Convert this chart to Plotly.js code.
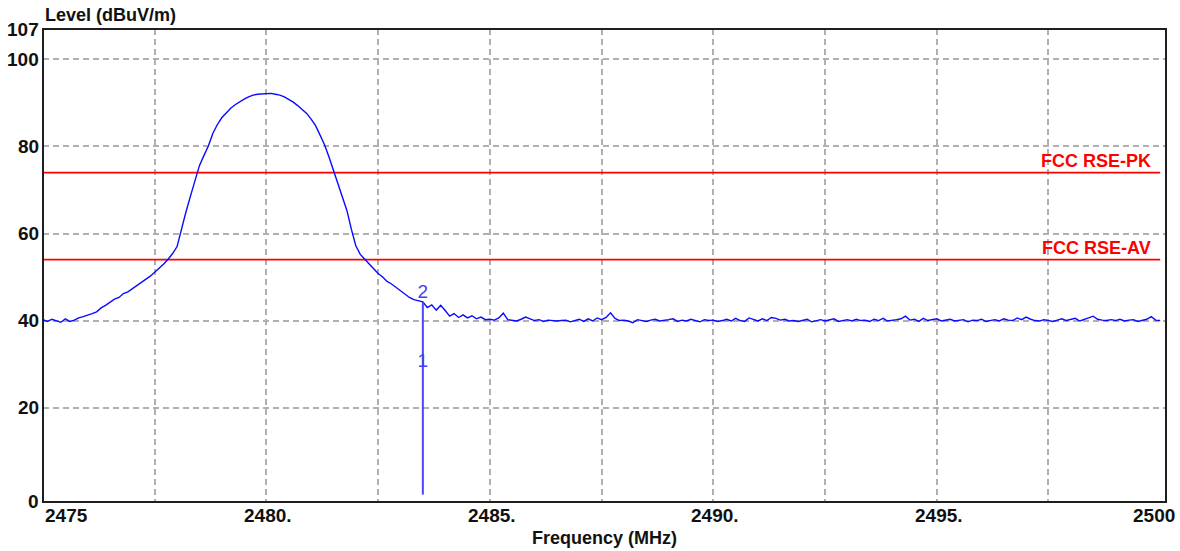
<!DOCTYPE html>
<html>
<head>
<meta charset="utf-8">
<script src="https://cdn.plot.ly/plotly-3.0.1.min.js"></script>
<style>html,body{margin:0;padding:0;background:#fff;}#chart{width:1180px;height:551px;}</style>
</head>
<body>
<div id="chart"></div>
<script>
// Sweep grid of the analyzer (MHz)
const sweepStartMHz = 2475.0;
const sweepStepMHz = 0.1;
const levels = [
  40.2, 39.8, 40.3, 40.0, 39.6, 40.4, 39.8, 40.1, 40.6, 40.9,
  41.2, 41.6, 42.0, 42.9, 43.5, 44.1, 44.9, 45.3, 46.2, 46.6,
  47.3, 48.0, 48.7, 49.4, 50.2, 51.1, 52.0, 53.0, 54.1, 55.4,
  57.0, 61.2, 65.0, 68.6, 72.4, 75.6, 77.9, 80.1, 83.0, 85.0,
  86.6, 87.8, 88.8, 89.6, 90.3, 90.9, 91.4, 91.8, 92.0, 92.1,
  92.2, 92.2, 92.0, 91.8, 91.4, 90.8, 90.2, 89.4, 88.5, 87.6,
  86.3, 84.8, 82.6, 80.4, 77.6, 74.6, 71.6, 68.4, 65.3, 61.0,
  57.2, 55.2, 54.0, 53.0, 51.9, 50.8, 50.0, 49.0, 48.4, 47.6,
  47.0, 46.1, 45.3, 44.8, 44.5, 44.3, 43.0, 43.6, 42.4, 43.5,
  42.3, 41.0, 41.6, 40.7, 41.3, 40.6, 41.1, 40.4, 40.8, 40.2,
  40.3, 40.1, 40.6, 41.7, 40.2, 40.0, 39.9, 40.3, 40.8, 40.4,
  40.0, 40.2, 39.8, 40.1, 40.0, 39.9, 40.0, 40.1, 39.7, 40.0,
  40.3, 39.8, 40.4, 39.9, 40.6, 40.2, 40.7, 41.8, 40.5, 40.0,
  40.1, 39.9, 39.5, 40.2, 40.0, 39.8, 40.1, 40.3, 39.9, 40.0,
  40.2, 40.4, 39.8, 40.1, 39.9, 40.3, 40.0, 39.7, 40.2, 40.0,
  40.1, 39.8, 40.0, 40.3, 39.9, 40.5, 40.0, 39.8, 40.6, 40.2,
  39.9, 40.4, 40.0, 40.7, 40.5, 40.1, 40.3, 39.9, 40.0, 39.8,
  40.1, 40.3, 39.7, 40.0, 40.2, 39.9, 40.1, 40.4, 39.8, 40.0,
  40.2, 39.9, 40.3, 40.0, 40.1, 39.8, 40.3, 40.0, 40.5, 39.9,
  40.0, 40.2, 40.4, 41.0, 40.1, 40.3, 39.8, 40.5, 40.0, 40.2,
  40.4, 39.9, 40.1, 40.3, 39.9, 40.0, 40.2, 39.7, 40.1, 40.0,
  40.3, 39.8, 40.0, 40.2, 39.9, 40.4, 40.1, 40.0, 40.6, 40.2,
  40.8, 40.3, 40.0, 39.9, 40.2, 40.0, 39.8, 40.1, 40.4, 40.0,
  40.3, 40.5, 39.9, 40.2, 40.6, 41.0, 40.3, 40.1, 40.0, 40.2,
  40.0, 40.3, 39.9, 40.1, 40.2, 39.8, 40.0, 40.3, 40.9, 40.1,
  40.0
];
const freqs = levels.map((_, i) => +(sweepStartMHz + i * sweepStepMHz).toFixed(2));

// Limit lines
const limitNames = ['FCC RSE-PK', 'FCC RSE-AV'];
const limitLevels = [74, 54];
const limitStartMHz = 2475;
const limitStopMHz = 2500;

// Markers
const markerLabels = ['1', '2'];
const markerFreqs = [2483.5, 2483.5];
const markerLabelLevels = [30.5, 46.2];
const markerLineLevels = [0, 44.3];

// Axis tick labels
const xTickVals = [2475, 2480, 2485, 2490, 2495, 2500];
const xTickText = ['2475', '2480.', '2485.', '2490.', '2495.', '2500'];
const xGridVals = [2477.5, 2480, 2482.5, 2485, 2487.5, 2490, 2492.5, 2495, 2497.5];
const yTickVals = [0, 20, 40, 60, 80, 100, 107];
const yTickText = ['0', '20', '40', '60', '80', '100', '107'];
const yGridVals = [20, 40, 60, 80, 100];

const FONT = 'Liberation Sans, Arial, sans-serif';
const TXT = '#111111';

const traces = [];
limitLevels.forEach((lv, i) => {
  traces.push({
    x: [limitStartMHz, limitStopMHz], y: [lv, lv], mode: 'lines',
    line: {color: '#ff0000', width: 1.6}, hoverinfo: 'skip', name: limitNames[i]
  });
});
traces.push({
  x: freqs, y: levels, mode: 'lines',
  line: {color: '#0a0aff', width: 1.4}, name: 'Level'
});
traces.push({
  x: markerFreqs, y: markerLineLevels, mode: 'lines',
  line: {color: '#4646ff', width: 2}, hoverinfo: 'skip', name: 'marker'
});
traces.push({
  x: markerFreqs, y: markerLabelLevels, mode: 'text', text: markerLabels,
  textposition: 'middle center',
  textfont: {family: FONT, size: 19, color: '#4a3cf0'}, hoverinfo: 'skip'
});

const annotations = [];
yTickVals.forEach((v, i) => {
  annotations.push({
    xref: 'paper', x: 0, yref: 'y', y: v === 0 ? -1.5 : v,
    xanchor: 'right', yanchor: 'middle', xshift: -2, showarrow: false,
    text: yTickText[i], font: {family: FONT, size: 19, color: TXT, weight: 700}
  });
});
xTickVals.forEach((v, i) => {
  const first = i === 0, last = i === xTickVals.length - 1;
  annotations.push({
    xref: 'x', x: v, yref: 'paper', y: 0,
    xanchor: first ? 'left' : 'center', yanchor: 'top',
    xshift: last ? -6 : (first ? 0 : 2), yshift: -1, showarrow: false,
    text: xTickText[i], font: {family: FONT, size: 19, color: TXT, weight: 700}
  });
});
limitLevels.forEach((lv, i) => {
  annotations.push({
    xref: 'x', x: 2499.85, yref: 'y', y: lv, xanchor: 'right', yanchor: 'middle',
    yshift: 12, showarrow: false, text: limitNames[i],
    font: {family: FONT, size: 18, color: '#ff0000', weight: 700}
  });
});
annotations.push({
  xref: 'paper', x: 0, yref: 'paper', y: 1, xanchor: 'left', yanchor: 'middle',
  yshift: 14, showarrow: false, text: 'Level (dBuV/m)',
  font: {family: FONT, size: 18, color: TXT, weight: 700}
});
annotations.push({
  xref: 'paper', x: 0.5, yref: 'paper', y: 0, xanchor: 'center', yanchor: 'middle',
  yshift: -36, showarrow: false, text: 'Frequency (MHz)',
  font: {family: FONT, size: 18, color: TXT, weight: 700}
});

const layout = {
  width: 1180, height: 551,
  margin: {l: 43, r: 14, t: 29, b: 49},
  paper_bgcolor: '#ffffff', plot_bgcolor: '#ffffff',
  showlegend: false,
  xaxis: {
    range: [2475, 2500.13], tickvals: xGridVals, showticklabels: false,
    showgrid: true, gridcolor: '#b0b0b0', gridwidth: 2, griddash: '6px,4px',
    zeroline: false, showline: false, ticks: '', fixedrange: true
  },
  yaxis: {
    range: [-1.7, 107], tickvals: yGridVals, showticklabels: false,
    showgrid: true, gridcolor: '#b0b0b0', gridwidth: 2, griddash: '6px,4px',
    zeroline: false, showline: false, ticks: '', fixedrange: true
  },
  shapes: [{
    type: 'rect', xref: 'paper', yref: 'paper', x0: 0, x1: 1, y0: 0, y1: 1,
    line: {color: '#1e1e1e', width: 2}, layer: 'above'
  }],
  annotations: annotations
};

Plotly.newPlot('chart', traces, layout, {displayModeBar: false, staticPlot: true});
</script>
</body>
</html>
